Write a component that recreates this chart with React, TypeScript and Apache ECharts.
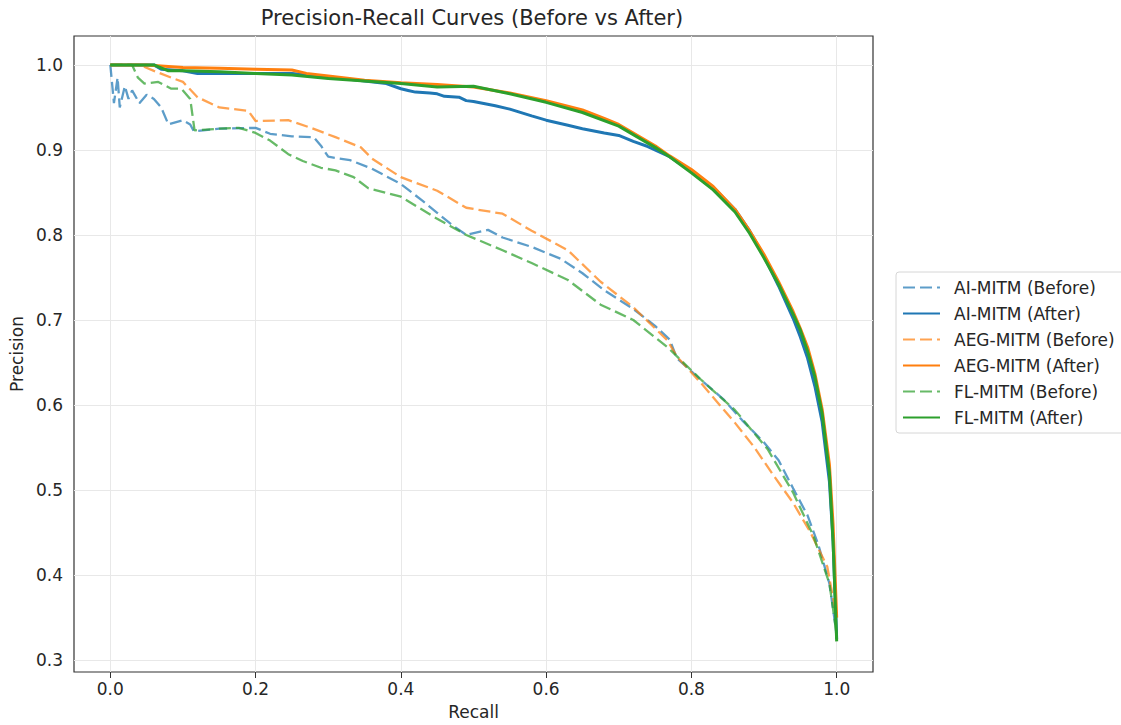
import React, { useEffect, useRef } from "react";
import * as echarts from "echarts";

const xTicks = [0.0, 0.2, 0.4, 0.6, 0.8, 1.0];
const yTicks = [0.3, 0.4, 0.5, 0.6, 0.7, 0.8, 0.9, 1.0];

const seriesNames = [
  "AI-MITM (Before)",
  "AI-MITM (After)",
  "AEG-MITM (Before)",
  "AEG-MITM (After)",
  "FL-MITM (Before)",
  "FL-MITM (After)",
];

const aiBeforeRecall = [0, 0.005, 0.01, 0.013, 0.02, 0.025, 0.03, 0.04, 0.05, 0.06, 0.07, 0.08, 0.1, 0.11, 0.115, 0.15, 0.2, 0.22, 0.25, 0.28, 0.29, 0.3, 0.33, 0.36, 0.4, 0.43, 0.45, 0.47, 0.49, 0.52, 0.54, 0.58, 0.62, 0.65, 0.68, 0.72, 0.75, 0.77, 0.78, 0.81, 0.845, 0.87, 0.9, 0.92, 0.94, 0.96, 0.975, 0.99, 1.0];
const aiBeforePrecision = [1.0, 0.955, 0.985, 0.95, 0.975, 0.96, 0.97, 0.955, 0.965, 0.96, 0.95, 0.93, 0.935, 0.93, 0.922, 0.925, 0.926, 0.919, 0.916, 0.915, 0.905, 0.892, 0.888, 0.878, 0.86, 0.84, 0.826, 0.812, 0.8, 0.806, 0.797, 0.786, 0.772, 0.755, 0.735, 0.713, 0.693, 0.677, 0.655, 0.632, 0.606, 0.582, 0.556, 0.535, 0.502, 0.47, 0.435, 0.39, 0.33];

const aiAfterRecall = [0, 0.06, 0.07, 0.1, 0.12, 0.15, 0.2, 0.25, 0.3, 0.35, 0.38, 0.4, 0.41, 0.42, 0.44, 0.45, 0.46, 0.48, 0.49, 0.5, 0.53, 0.55, 0.58, 0.6, 0.63, 0.65, 0.68, 0.7, 0.72, 0.74, 0.77, 0.8, 0.83, 0.86, 0.88, 0.9, 0.92, 0.94, 0.95, 0.96, 0.97, 0.98, 0.99, 0.995, 1.0];
const aiAfterPrecision = [1.0, 1.0, 0.995, 0.993, 0.99, 0.99, 0.99, 0.99, 0.986, 0.981, 0.978, 0.972, 0.97, 0.968, 0.967, 0.966, 0.963, 0.962, 0.958, 0.957, 0.952, 0.948, 0.94, 0.935, 0.929, 0.925, 0.92, 0.917, 0.91, 0.904, 0.892, 0.875, 0.856, 0.83, 0.805, 0.775, 0.74, 0.702, 0.68, 0.655, 0.622, 0.58, 0.51, 0.44, 0.325];

const aegBeforeRecall = [0, 0.04, 0.06, 0.084, 0.1, 0.12, 0.15, 0.19, 0.2, 0.245, 0.276, 0.31, 0.345, 0.36, 0.4, 0.45, 0.49, 0.54, 0.58, 0.63, 0.675, 0.72, 0.767, 0.78, 0.813, 0.86, 0.886, 0.914, 0.94, 0.964, 0.987, 1.0];
const aegBeforePrecision = [1.0, 1.0, 0.993, 0.985, 0.98, 0.962, 0.95, 0.946, 0.934, 0.935, 0.926, 0.915, 0.903, 0.89, 0.868, 0.852, 0.832, 0.825, 0.805, 0.782, 0.745, 0.715, 0.676, 0.657, 0.626, 0.579, 0.551, 0.516, 0.485, 0.45, 0.41, 0.35];

const aegAfterRecall = [0, 0.05, 0.1, 0.15, 0.2, 0.25, 0.27, 0.3, 0.35, 0.4, 0.45, 0.5, 0.55, 0.6, 0.65, 0.68, 0.7, 0.72, 0.75, 0.77, 0.8, 0.83, 0.86, 0.88, 0.9, 0.92, 0.94, 0.95, 0.96, 0.97, 0.98, 0.99, 0.995, 1.0];
const aegAfterPrecision = [1.0, 1.0, 0.997, 0.996, 0.995, 0.994, 0.99, 0.987, 0.982, 0.979, 0.977, 0.974, 0.967, 0.958, 0.947, 0.937, 0.93, 0.92, 0.905, 0.893, 0.877, 0.857, 0.83, 0.805, 0.777, 0.745, 0.71, 0.69, 0.668, 0.637, 0.595, 0.53, 0.46, 0.35];

const flBeforeRecall = [0, 0.03, 0.038, 0.047, 0.066, 0.084, 0.098, 0.11, 0.116, 0.15, 0.177, 0.2, 0.22, 0.245, 0.265, 0.29, 0.31, 0.335, 0.355, 0.4, 0.446, 0.49, 0.54, 0.58, 0.63, 0.675, 0.72, 0.767, 0.813, 0.86, 0.905, 0.94, 0.968, 0.99, 1.0];
const flBeforePrecision = [1.0, 1.0, 0.985, 0.978, 0.98, 0.972, 0.972, 0.96, 0.923, 0.925, 0.926, 0.92, 0.911, 0.895, 0.887, 0.879, 0.876, 0.868, 0.855, 0.845, 0.821, 0.8, 0.782, 0.767, 0.747, 0.718, 0.7, 0.668, 0.63, 0.594, 0.548, 0.497, 0.446, 0.39, 0.33];

const flAfterRecall = [0, 0.06, 0.08, 0.1, 0.15, 0.2, 0.25, 0.3, 0.35, 0.4, 0.45, 0.5, 0.55, 0.6, 0.65, 0.7, 0.72, 0.75, 0.77, 0.8, 0.83, 0.86, 0.88, 0.9, 0.92, 0.94, 0.95, 0.96, 0.97, 0.98, 0.99, 0.995, 1.0];
const flAfterPrecision = [1.0, 1.0, 0.993, 0.993, 0.992, 0.99, 0.988, 0.984, 0.981, 0.978, 0.974, 0.975, 0.966, 0.956, 0.944, 0.928, 0.918, 0.903, 0.892, 0.873, 0.853, 0.827, 0.802, 0.773, 0.742, 0.707, 0.688, 0.663, 0.633, 0.59, 0.52, 0.44, 0.322];

const recalls = [aiBeforeRecall, aiAfterRecall, aegBeforeRecall, aegAfterRecall, flBeforeRecall, flAfterRecall];
const precisions = [aiBeforePrecision, aiAfterPrecision, aegBeforePrecision, aegAfterPrecision, flBeforePrecision, flAfterPrecision];
const colors = ["#1f77b4", "#1f77b4", "#ff7f0e", "#ff7f0e", "#2ca02c", "#2ca02c"];

const FONT = "DejaVu Sans";
const TEXT = "#262626";

export default function App() {
  const ref = useRef<HTMLDivElement>(null);
  useEffect(() => {
    if (!ref.current) return;
    const chart = echarts.init(ref.current, null, { renderer: "svg" });
    const lineSeries = seriesNames.map((name, i) => {
      const dashed = i % 2 === 0;
      return {
        name,
        type: "line",
        data: recalls[i].map((r, j) => [r, precisions[i][j]]),
        showSymbol: false,
        symbol: "none",
        z: 3,
        color: colors[i],
        lineStyle: {
          color: colors[i],
          width: dashed ? 2.3 : 3,
          type: dashed ? [12, 5] : "solid",
          opacity: dashed ? 0.72 : 1,
        },
        itemStyle: { color: colors[i] },
      };
    });
    const gridSeries = {
      name: "__grid",
      type: "line",
      data: [],
      showSymbol: false,
      symbol: "none",
      silent: true,
      z: 1,
      lineStyle: { opacity: 0 },
      markLine: {
        silent: true,
        symbol: "none",
        z: 1,
        animation: false,
        label: { show: false },
        lineStyle: { color: "#e8e8e8", type: "solid", width: 1 },
        data: [
          ...xTicks.map((v) => ({ xAxis: v })),
          ...yTicks.map((v) => ({ yAxis: v })),
        ],
      },
    };
    chart.setOption({
      animation: false,
      backgroundColor: "#ffffff",
      textStyle: { fontFamily: FONT },
      graphic: [
        {
          type: "text",
          x: 472,
          y: 18,
          style: {
            text: "Precision-Recall Curves (Before vs After)",
            fontFamily: FONT,
            fontSize: 21,
            fill: TEXT,
            textAlign: "center",
            textVerticalAlign: "middle",
          },
        },
      ],
      grid: {
        left: 74,
        top: 36,
        right: 248,
        bottom: 53,
        show: true,
        borderColor: "#333",
        borderWidth: 1.2,
        backgroundColor: "transparent",
      },
      legend: {
        data: seriesNames,
        orient: "vertical",
        left: 896,
        top: 272,
        itemWidth: 37,
        itemHeight: 14,
        itemGap: 9,
        padding: [7, 20, 7, 6],
        borderColor: "#d6d6d6",
        borderWidth: 1,
        borderRadius: 3,
        itemStyle: { opacity: 0 },
        textStyle: {
          fontFamily: FONT,
          fontSize: 17,
          color: TEXT,
          padding: [0, 0, 0, 9],
        },
      },
      xAxis: {
        type: "value",
        min: -0.05,
        max: 1.05,
        name: "Recall",
        nameLocation: "middle",
        nameGap: 31,
        nameTextStyle: { fontFamily: FONT, fontSize: 17, color: TEXT },
        axisLine: { show: false },
        splitLine: { show: false },
        axisTick: {
          show: true,
          length: 6,
          lineStyle: { color: "#333" },
          customValues: xTicks,
        },
        axisLabel: {
          customValues: xTicks,
          margin: 8,
          fontFamily: FONT,
          fontSize: 17,
          color: TEXT,
          formatter: (v: number) => v.toFixed(1),
        },
      },
      yAxis: {
        type: "value",
        min: 0.286,
        max: 1.034,
        name: "Precision",
        nameLocation: "middle",
        nameGap: 48,
        nameRotate: 90,
        nameTextStyle: { fontFamily: FONT, fontSize: 17, color: TEXT },
        axisLine: { show: false },
        splitLine: { show: false },
        axisTick: {
          show: true,
          length: 6,
          lineStyle: { color: "#333" },
          customValues: yTicks,
        },
        axisLabel: {
          customValues: yTicks,
          margin: 11,
          fontFamily: FONT,
          fontSize: 17,
          color: TEXT,
          formatter: (v: number) => v.toFixed(1),
        },
      },
      series: [gridSeries, ...lineSeries],
    });
    return () => chart.dispose();
  }, []);
  return (
    <div
      ref={ref}
      style={{ position: "fixed", left: 0, top: 0, width: 1121, height: 725 }}
    />
  );
}
